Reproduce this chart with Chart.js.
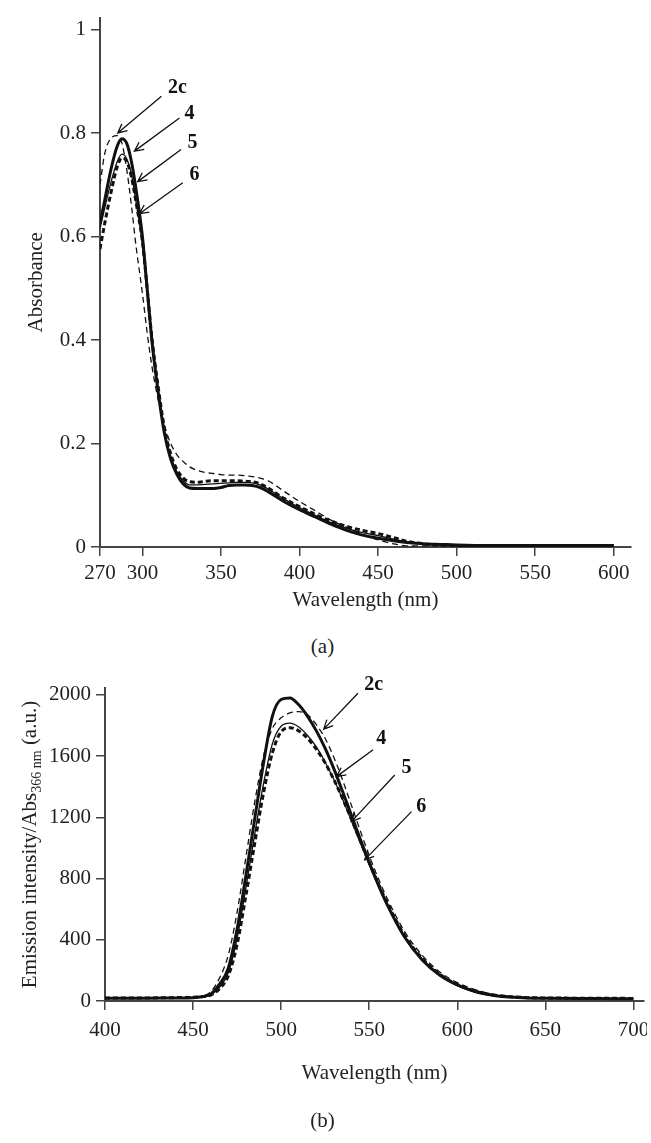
<!DOCTYPE html>
<html>
<head>
<meta charset="utf-8">
<script src="https://cdn.jsdelivr.net/npm/chart.js@4.4.1/dist/chart.umd.min.js"></script>
<style>
  body { margin: 0; background: #fff; }
  #page { position: relative; width: 651px; height: 1143px; overflow: hidden; background: #fff; }
  .box { position: absolute; left: 0; overflow: hidden; }
  .cap { position: absolute; left: 0; width: 645px; text-align: center;
         font: 21px "Liberation Serif", "DejaVu Serif", serif; color: #222; line-height: 24px; }
</style>
</head>
<body>
<div id="page">
  <div class="box" style="top:0; width:651px; height:625px"><canvas id="absChart" width="680" height="625"></canvas></div>
  <div class="cap" style="top:634px">(a)</div>
  <div class="box" style="top:620px; width:647px; height:480px"><canvas id="emChart" width="680" height="480"></canvas></div>
  <div class="cap" style="top:1108px">(b)</div>
</div>
<script>
// (a) absorbance spectra
const absWl = [273, 276, 280, 284, 287, 290, 293, 296, 300, 303, 306, 310, 314, 318, 322, 326, 330, 335, 340, 345, 350, 355, 360, 365, 370, 375, 380, 390, 400, 410, 420, 430, 440, 450, 460, 470, 480, 490, 500, 520, 550, 575, 600]
const abs2c = [0.70, 0.76, 0.79, 0.795, 0.78, 0.73, 0.66, 0.58, 0.49, 0.415, 0.35, 0.285, 0.235, 0.2, 0.178, 0.165, 0.155, 0.148, 0.144, 0.142, 0.14, 0.139, 0.139, 0.138, 0.136, 0.133, 0.128, 0.108, 0.088, 0.07, 0.052, 0.038, 0.025, 0.014, 0.006, 0.002, 0.002, 0.002, 0.002, 0.002, 0.002, 0.002, 0.002]
const abs4 = [0.625, 0.67, 0.73, 0.775, 0.789, 0.78, 0.745, 0.69, 0.60, 0.50, 0.40, 0.30, 0.22, 0.17, 0.14, 0.122, 0.114, 0.113, 0.113, 0.113, 0.115, 0.119, 0.12, 0.12, 0.119, 0.115, 0.107, 0.088, 0.072, 0.058, 0.044, 0.032, 0.023, 0.017, 0.012, 0.008, 0.006, 0.005, 0.004, 0.003, 0.003, 0.003, 0.003]
const abs5 = [0.615, 0.655, 0.705, 0.745, 0.759, 0.75, 0.72, 0.665, 0.585, 0.49, 0.395, 0.30, 0.225, 0.175, 0.145, 0.128, 0.12, 0.12, 0.121, 0.122, 0.123, 0.124, 0.125, 0.125, 0.124, 0.12, 0.112, 0.093, 0.076, 0.061, 0.047, 0.036, 0.028, 0.022, 0.015, 0.009, 0.006, 0.004, 0.003, 0.002, 0.002, 0.002, 0.002]
const abs6 = [0.576, 0.625, 0.685, 0.735, 0.752, 0.745, 0.715, 0.665, 0.59, 0.50, 0.405, 0.31, 0.23, 0.18, 0.15, 0.133, 0.126, 0.125, 0.127, 0.128, 0.128, 0.128, 0.128, 0.127, 0.126, 0.122, 0.114, 0.094, 0.078, 0.063, 0.05, 0.04, 0.032, 0.026, 0.018, 0.01, 0.006, 0.004, 0.003, 0.003, 0.003, 0.003, 0.003]
const absXTicks = [273, 300, 350, 400, 450, 500, 550, 600]
const absXLabels = ['270', '300', '350', '400', '450', '500', '550', '600']
const absYTicks = [0, 0.2, 0.4, 0.6, 0.8, 1]

// (b) emission spectra
const emWl = [400, 420, 440, 450, 455, 460, 465, 470, 475, 480, 485, 490, 495, 500, 505, 510, 515, 520, 525, 530, 535, 540, 545, 550, 555, 560, 570, 580, 590, 600, 610, 620, 630, 640, 650, 675, 700]
const em2c = [20, 20, 22, 25, 32, 60, 150, 300, 580, 940, 1300, 1600, 1780, 1850, 1882, 1891, 1870, 1805, 1715, 1590, 1440, 1275, 1110, 950, 805, 675, 455, 300, 190, 120, 75, 45, 30, 23, 20, 18, 17]
const em4 = [18, 18, 20, 22, 28, 45, 110, 215, 470, 820, 1190, 1555, 1860, 1970, 1980, 1935, 1860, 1765, 1650, 1515, 1365, 1210, 1055, 905, 765, 635, 420, 270, 170, 105, 62, 38, 26, 20, 18, 16, 15]
const em5 = [18, 18, 20, 22, 26, 40, 90, 185, 410, 740, 1090, 1420, 1680, 1795, 1815, 1790, 1735, 1660, 1560, 1445, 1315, 1175, 1030, 890, 755, 630, 415, 265, 165, 100, 60, 36, 25, 19, 17, 15, 14]
const em6 = [20, 20, 22, 24, 28, 38, 80, 165, 370, 690, 1030, 1360, 1620, 1760, 1785, 1765, 1715, 1645, 1555, 1445, 1320, 1185, 1045, 905, 770, 645, 430, 280, 175, 108, 65, 40, 28, 22, 20, 18, 17]
const emXTicks = [400, 450, 500, 550, 600, 650, 700]
const emYTicks = [0, 400, 800, 1200, 1600, 2000]

// arrow labels, in data units: [wavelength, value]
const noteText = ['2c', '4', '5', '6']
const absNoteTip = [[284.3, 0.800], [294.9, 0.765], [297, 0.706], [298.1, 0.644]]
const absNoteTail = [[312.1, 0.871], [323.6, 0.829], [324.6, 0.768], [325.7, 0.704]]
const absNoteAt = [[322.3, 0.887], [329.9, 0.837], [331.8, 0.781], [333.1, 0.72]]
const emNoteTip = [[524.2, 1776], [531.4, 1466], [539.9, 1172], [547.4, 922]]
const emNoteTail = [[543.6, 2011], [552.2, 1641], [564.5, 1477], [574, 1237]]
const emNoteAt = [[552.6, 2065], [556.9, 1710], [571.1, 1521], [579.6, 1270]]

const SERIF = '"Liberation Serif", "DejaVu Serif", serif'
Chart.defaults.font.family = SERIF
Chart.defaults.font.size = 21
Chart.defaults.color = '#222'

function pairs(xs, ys) {
  return xs.map((x, i) => ({ x: x, y: ys[i] }))
}

function seriesSets(wl, s2c, s4, s5, s6) {
  return [
    { label: '2c', data: pairs(wl, s2c), borderColor: '#111', borderWidth: 1.3, borderDash: [6, 4] },
    { label: '4', data: pairs(wl, s4), borderColor: '#111', borderWidth: 3 },
    { label: '5', data: pairs(wl, s5), borderColor: '#111', borderWidth: 1.3 },
    { label: '6', data: pairs(wl, s6), borderColor: '#111', borderWidth: 3, borderDash: [5, 3] }
  ]
}

const notePlugin = {
  id: 'notes',
  afterDraw(chart, args, opts) {
    const { ctx, scales: { x, y } } = chart
    ctx.save()
    ctx.strokeStyle = '#111'
    ctx.fillStyle = '#111'
    ctx.lineWidth = 1.3
    ctx.font = 'bold 20px ' + SERIF
    ctx.textAlign = 'center'
    ctx.textBaseline = 'middle'
    opts.text.forEach((t, i) => {
      const tx = x.getPixelForValue(opts.tip[i][0]), ty = y.getPixelForValue(opts.tip[i][1])
      const sx = x.getPixelForValue(opts.tail[i][0]), sy = y.getPixelForValue(opts.tail[i][1])
      const ang = Math.atan2(ty - sy, tx - sx)
      const h = 10
      ctx.beginPath()
      ctx.moveTo(sx, sy)
      ctx.lineTo(tx, ty)
      ctx.moveTo(tx - h * Math.cos(ang - 0.45), ty - h * Math.sin(ang - 0.45))
      ctx.lineTo(tx, ty)
      ctx.lineTo(tx - h * Math.cos(ang + 0.45), ty - h * Math.sin(ang + 0.45))
      ctx.stroke()
      ctx.fillText(t, x.getPixelForValue(opts.at[i][0]), y.getPixelForValue(opts.at[i][1]))
    })
    ctx.restore()
  }
}

// y title with a subscript, drawn beside the emission y axis
const subTitlePlugin = {
  id: 'subTitle',
  afterDraw(chart, args, opts) {
    if (!opts.parts) return
    const { ctx, chartArea } = chart
    ctx.save()
    ctx.translate(opts.x, (chartArea.top + chartArea.bottom) / 2)
    ctx.rotate(-Math.PI / 2)
    ctx.fillStyle = '#222'
    ctx.textBaseline = 'alphabetic'
    let total = 0
    opts.parts.forEach(p => { ctx.font = p[1] + 'px ' + SERIF; total += ctx.measureText(p[0]).width })
    let pos = -total / 2
    opts.parts.forEach(p => {
      ctx.font = p[1] + 'px ' + SERIF
      ctx.fillText(p[0], pos, 8 + p[2])
      pos += ctx.measureText(p[0]).width
    })
    ctx.restore()
  }
}

const axisGrid = { drawOnChartArea: false, tickLength: 9, color: '#444', lineWidth: 1.5 }
const axisBorder = { color: '#444', width: 2 }

new Chart(document.getElementById('absChart'), {
  type: 'line',
  data: { datasets: seriesSets(absWl, abs2c, abs4, abs5, abs6) },
  plugins: [notePlugin],
  options: {
    responsive: false,
    animation: false,
    devicePixelRatio: 1,
    layout: { padding: { left: 0, right: 49, top: 14, bottom: 0 } },
    elements: { point: { radius: 0 }, line: { cubicInterpolationMode: 'monotone', fill: false } },
    plugins: {
      legend: { display: false },
      tooltip: { enabled: false },
      notes: { text: noteText, tip: absNoteTip, tail: absNoteTail, at: absNoteAt }
    },
    scales: {
      x: {
        type: 'linear', min: 273, max: 611,
        afterBuildTicks: s => { s.ticks = absXTicks.map(v => ({ value: v })) },
        afterFit: s => { s.height = 78 },
        ticks: { padding: 5, maxRotation: 0, autoSkip: false, callback: (v, i) => absXLabels[i] },
        grid: axisGrid, border: axisBorder,
        title: { display: true, text: 'Wavelength (nm)', padding: { top: 0, bottom: 12 } }
      },
      y: {
        type: 'linear', min: 0, max: 1.023,
        afterBuildTicks: s => { s.ticks = absYTicks.map(v => ({ value: v })) },
        afterFit: s => { s.width = 100 },
        ticks: { padding: 5, callback: v => (v === 0 || v === 1) ? String(v) : v.toFixed(1) },
        grid: axisGrid, border: axisBorder,
        title: { display: true, text: 'Absorbance', padding: { top: 24, bottom: 0 } }
      }
    }
  }
})

new Chart(document.getElementById('emChart'), {
  type: 'line',
  data: { datasets: seriesSets(emWl, em2c, em4, em5, em6) },
  plugins: [notePlugin, subTitlePlugin],
  options: {
    responsive: false,
    animation: false,
    devicePixelRatio: 1,
    layout: { padding: { left: 0, right: 36, top: 68, bottom: 0 } },
    elements: { point: { radius: 0 }, line: { cubicInterpolationMode: 'monotone', fill: false } },
    plugins: {
      legend: { display: false },
      tooltip: { enabled: false },
      notes: { text: noteText, tip: emNoteTip, tail: emNoteTail, at: emNoteAt },
      subTitle: { x: 28, parts: [['Emission intensity/Abs', 21, 0], ['366 nm', 14, 5], [' (a.u.)', 21, 0]] }
    },
    scales: {
      x: {
        type: 'linear', min: 400, max: 706,
        afterBuildTicks: s => { s.ticks = emXTicks.map(v => ({ value: v })) },
        afterFit: s => { s.height = 99 },
        ticks: { padding: 8, maxRotation: 0, autoSkip: false, callback: v => String(v) },
        grid: axisGrid, border: axisBorder,
        title: { display: true, text: 'Wavelength (nm)', padding: { top: 0, bottom: 14 } }
      },
      y: {
        type: 'linear', min: 0, max: 2045,
        afterBuildTicks: s => { s.ticks = emYTicks.map(v => ({ value: v })) },
        afterFit: s => { s.width = 105 },
        ticks: { padding: 5, callback: v => String(v) },
        grid: axisGrid, border: axisBorder
      }
    }
  }
})
</script>
</body>
</html>
